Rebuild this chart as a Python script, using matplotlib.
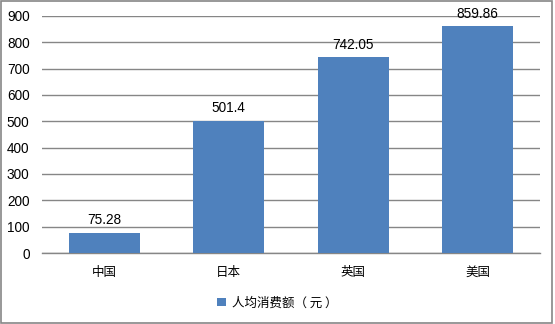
import matplotlib
matplotlib.use("Agg")
import matplotlib.pyplot as plt
from matplotlib.patches import Rectangle

plt.rcParams['font.family'] = ['Liberation Sans', 'Noto Sans CJK SC', 'DejaVu Sans']

categories = ['中国', '日本', '英国', '美国']
values = [75.28, 501.4, 742.05, 859.86]
value_labels = ['75.28', '501.4', '742.05', '859.86']
yticks = [0, 100, 200, 300, 400, 500, 600, 700, 800, 900]
series_name = '人均消费额（ 元 ）'

bar_color = '#4F81BD'
grid_color = '#868686'

fig = plt.figure(figsize=(5.55, 3.24), dpi=100)
ax = fig.add_axes([0.0757, 0.219, 0.897, 0.732])

x = list(range(len(categories)))
bars = ax.bar(x, values, width=0.57, color=bar_color, label=series_name, zorder=3)

for xi, v, lab in zip(x, values, value_labels):
    ax.text(xi, v + 22, lab, ha='center', va='bottom', fontsize=9.8, color='#000000')

ax.set_xlim(-0.5, len(categories) - 0.5)
ax.set_ylim(0, 900)
ax.set_yticks(yticks)
ax.set_yticklabels([str(t) for t in yticks], fontsize=9.8)
ax.set_xticks(x)
ax.set_xticklabels(categories, fontsize=9, family=['Noto Sans CJK SC', 'DejaVu Sans'])
ax.tick_params(axis='y', length=0, pad=9)
ax.tick_params(axis='x', length=0, pad=9)

ax.yaxis.grid(True, color=grid_color, linewidth=1.0, zorder=0)
for side in ['left', 'right', 'top']:
    ax.spines[side].set_visible(False)
ax.spines['bottom'].set_color(grid_color)
ax.spines['bottom'].set_linewidth(1.0)

leg = fig.legend(handles=[bars], labels=[series_name], loc='center',
                 bbox_to_anchor=(0.5, 0.065), frameon=False,
                 handlelength=0.7, handleheight=0.7, handletextpad=0.5,
                 prop={'family': ['Noto Sans CJK SC', 'DejaVu Sans'], 'size': 9})

fig.patches.append(Rectangle((0.001, 0.004), 0.994, 0.993, transform=fig.transFigure,
                             fill=False, edgecolor='#868686', linewidth=1.2))

fig.savefig('out.png', dpi=100)
